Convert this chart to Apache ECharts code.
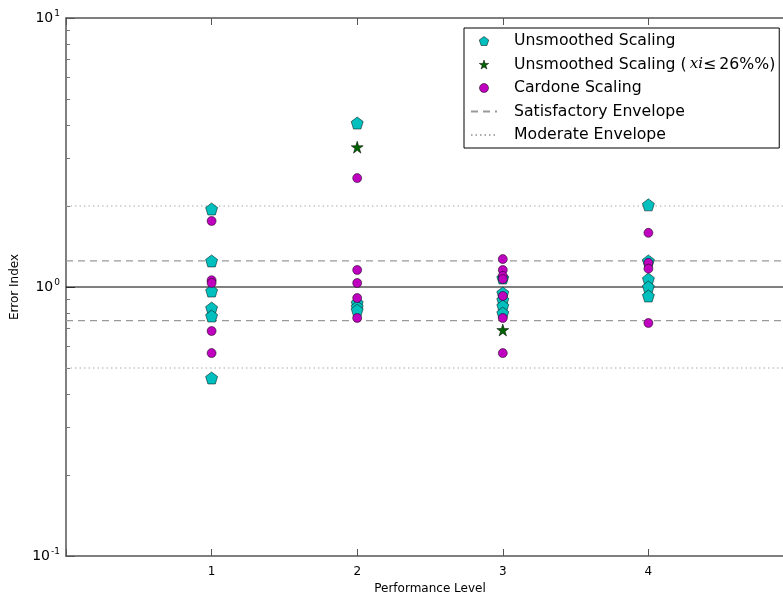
<!DOCTYPE html>
<html><head><meta charset="utf-8">
<script src="https://cdn.jsdelivr.net/npm/echarts@6/dist/echarts.min.js"></script>
<style>html,body{margin:0;padding:0;background:#fff}#c{width:783px;height:595px}</style>
</head><body><div id="c"></div>
<script>
// Data
const xTicks = [1, 2, 3, 4];
const unsmoothedX = [1,1,1,1,1,1, 2,2,2,2, 3,3,3,3,3, 4,4,4,4,4];
const unsmoothedY = [1.95,1.25,0.966,0.835,0.78,0.459, 4.07,0.872,0.843,0.82, 1.08,0.95,0.895,0.85,0.80, 2.02,1.25,1.07,1.0,0.926];
const xiX = [2, 3];
const xiY = [3.31, 0.692];
const cardoneX = [1,1,1,1,1, 2,2,2,2,2, 3,3,3,3,3,3,3, 4,4,4,4];
const cardoneY = [1.76,1.06,1.035,0.686,0.568, 2.54,1.157,1.035,0.91,0.767, 1.27,1.157,1.1,1.07,0.926,0.767,0.568, 1.59,1.23,1.17,0.735];
const satisfactory = [1.25, 0.75];
const moderate = [2.0, 0.5];
const reference = 1.0;
const xRange = [0, 5];
const yMinorTicks = [0.2,0.3,0.4,0.5,0.6,0.7,0.8,0.9, 2,3,4,5,6,7,8,9];

const pair = (xs, ys) => xs.map((x, i) => [x, ys[i]]);
const hline = v => [[xRange[0], v], [xRange[1], v]];

const pentagon = 'path://M0,-1 L0.951,-0.309 L0.588,0.809 L-0.588,0.809 L-0.951,-0.309 Z';
const star = 'path://M0,-1 L0.2245,-0.309 L0.951,-0.309 L0.363,0.118 L0.588,0.809 L0,0.382 L-0.588,0.809 L-0.363,0.118 L-0.951,-0.309 L-0.2245,-0.309 Z';
const FONT = 'DejaVu Sans';
const XI_NAME = 'Unsmoothed Scaling ( xi \u2264 26%%)';

const series = [];
satisfactory.forEach(v => series.push({
  name: 'Satisfactory Envelope', type: 'line', data: hline(v), symbol: 'none', silent: true,
  itemStyle: {color: '#999'},
  lineStyle: {color: '#999', width: 1.2, type: [7, 5]}, z: 1, animation: false
}));
moderate.forEach(v => series.push({
  name: 'Moderate Envelope', type: 'line', data: hline(v), symbol: 'none', silent: true,
  itemStyle: {color: '#aaa'},
  lineStyle: {color: '#aaa', width: 1.2, type: [1.5, 3]}, z: 1, animation: false
}));
series.push({
  name: 'ref', type: 'line', data: hline(reference), symbol: 'none', silent: true,
  lineStyle: {color: '#000', width: 1}, z: 1, animation: false
});
series.push({
  name: 'Unsmoothed Scaling', type: 'scatter', data: pair(unsmoothedX, unsmoothedY),
  symbol: pentagon, symbolSize: 12,
  itemStyle: {color: '#00bfbf', borderColor: '#000', borderWidth: 0.5, opacity: 1}, z: 3, animation: false
});
series.push({
  name: XI_NAME, type: 'scatter', data: pair(xiX, xiY),
  symbol: star, symbolSize: 12,
  itemStyle: {color: '#006400', borderColor: '#000', borderWidth: 0.5, opacity: 1}, z: 4, animation: false
});
series.push({
  name: 'Cardone Scaling', type: 'scatter', data: pair(cardoneX, cardoneY),
  symbol: 'circle', symbolSize: 9,
  itemStyle: {color: '#bf00bf', borderColor: '#000', borderWidth: 0.5, opacity: 1}, z: 5, animation: false
});

const legendData = [
  {name: 'Unsmoothed Scaling', itemStyle: {borderWidth: 0.5}},
  {name: XI_NAME, itemStyle: {borderWidth: 0.5}},
  {name: 'Cardone Scaling', itemStyle: {borderWidth: 0.5}},
  {name: 'Satisfactory Envelope', itemStyle: {opacity: 0}},
  {name: 'Moderate Envelope', itemStyle: {opacity: 0}}
];

const chart = echarts.init(document.getElementById('c'), null, {renderer: 'canvas'});
chart.setOption({
  animation: false,
  backgroundColor: '#fff',
  textStyle: {fontFamily: FONT, color: '#000'},
  grid: {left: 66, top: 18, width: 728, height: 538, containLabel: false, outerBoundsMode: 'none'},
  legend: {
    data: legendData,
    orient: 'vertical', left: 464, top: 28,
    backgroundColor: '#fff', borderColor: '#000', borderWidth: 1, borderRadius: 0,
    padding: [5, 4, 5, 6], itemGap: 7.5, itemWidth: 26, itemHeight: 9,
    textStyle: {fontFamily: FONT, fontSize: 15.7, color: '#000', padding: [0, 0, 0, 12],
      rich: {n: {fontFamily: FONT, fontSize: 15.7, color: '#000', height: 18},
             i: {fontFamily: 'DejaVu Serif', fontStyle: 'italic', fontSize: 15, color: '#000', height: 18}}},
    formatter: n => n === XI_NAME ? '{n|Unsmoothed Scaling (\u2009}{i|xi}{n|\u2264\u200926%%)}' : '{n|' + n + '}',
    selectedMode: false
  },
  xAxis: [{
    type: 'value', min: xRange[0], max: xRange[1], interval: 1,
    name: 'Performance Level', nameLocation: 'middle', nameGap: 24,
    nameTextStyle: {fontFamily: FONT, fontSize: 12, color: '#000'},
    axisLine: {show: true, onZero: false, lineStyle: {color: '#555', width: 1.5}},
    axisTick: {show: true, inside: true, length: 7, lineStyle: {color: '#555'}},
    axisLabel: {fontFamily: FONT, fontSize: 12, color: '#000', margin: 10,
      formatter: v => xTicks.includes(v) ? String(v) : ''},
    splitLine: {show: false}
  }, {
    type: 'value', position: 'top', min: xRange[0], max: xRange[1], interval: 1,
    axisLine: {show: true, onZero: false, lineStyle: {color: '#555', width: 1.5}},
    axisTick: {show: true, inside: true, length: 7, lineStyle: {color: '#555'}},
    axisLabel: {show: false}, splitLine: {show: false}
  }],
  yAxis: [{
    type: 'log', logBase: 10, min: 0.1, max: 10,
    name: 'Error Index', nameLocation: 'middle', nameGap: 29,
    nameTextStyle: {fontFamily: FONT, fontSize: 12, color: '#000'},
    axisLine: {show: true, onZero: false, lineStyle: {color: '#555', width: 1.5}},
    axisTick: {show: true, inside: true, length: 9, lineStyle: {color: '#555'}},
    axisLabel: {margin: 6,
      formatter: v => '{b|10}{s|' + Math.round(Math.log10(v)) + '}',
      rich: {b: {fontFamily: FONT, fontSize: 14, color: '#000'},
             s: {fontFamily: FONT, fontSize: 9, color: '#000', verticalAlign: 'top', padding: [0, 0, 8, 1]}}},
    splitLine: {show: false}
  }, {
    type: 'value', min: -1, max: 1, position: 'left', offset: 0,
    axisLine: {show: false, onZero: false},
    axisTick: {show: true, inside: true, length: 4, customValues: yMinorTicks.map(v => Math.log10(v)), lineStyle: {color: '#777'}},
    axisLabel: {show: false}, splitLine: {show: false}
  }],
  series: series
});
</script></body></html>
